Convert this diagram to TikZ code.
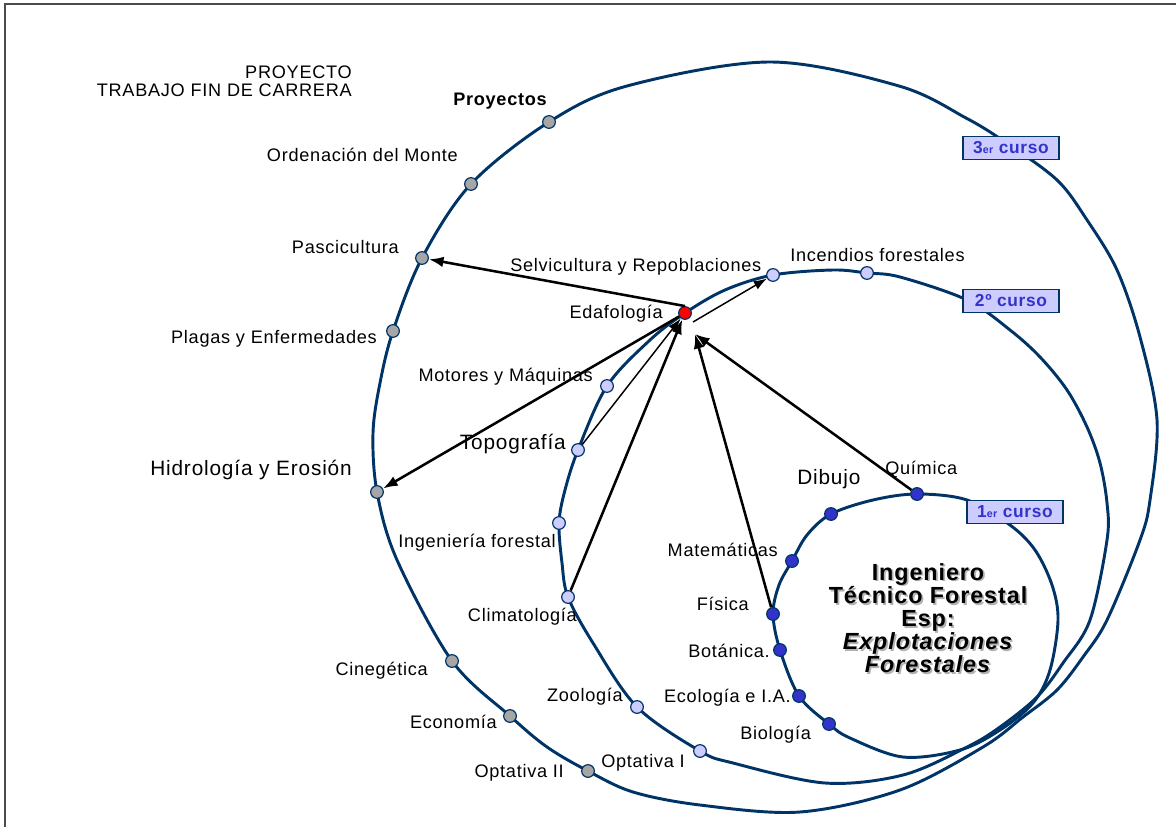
\documentclass[tikz,border=0pt]{standalone}
\usepackage{fontspec}
\setmainfont{Liberation Sans}[LetterSpace=4]
\usepackage{xcolor}
\usetikzlibrary{arrows.meta}

\definecolor{navy}{RGB}{0,51,102}
\definecolor{lav}{RGB}{204,204,255}
\definecolor{royal}{RGB}{51,51,204}
\definecolor{dotgray}{RGB}{166,166,166}

\tikzset{
  ring/.style={navy, line width=2.2pt},
  gdot/.style={circle, draw=navy, fill=dotgray, line width=0.9pt, minimum size=9.5pt, inner sep=0pt},
  ldot/.style={gdot, fill=lav},
  bdot/.style={gdot, fill=royal},
  rdot/.style={gdot, fill=red},
  lbl/.style={font=\fontsize{13.6}{15}\selectfont, inner sep=0pt},
  biglbl/.style={font=\fontsize{15.6}{19}\selectfont, inner sep=0pt},
  cursobox/.style={draw=navy, fill=lav, text=royal, line width=0.9pt,
    font=\bfseries\fontsize{13}{14}\selectfont, minimum width=72pt, minimum height=17pt, inner sep=1pt},
  titulo/.style={align=center, inner sep=0pt, font=\bfseries\fontsize{17.5}{17.3}\selectfont},
  arr/.style={-{Latex[length=11pt,width=8pt]}, line width=1.9pt},
  thinarr/.style={-{Latex[length=10pt,width=7pt]}, line width=1.1pt},
}

\begin{document}
\begin{tikzpicture}[x=0.75pt, y=-0.75pt]
\useasboundingbox (0,0) rectangle (1176,827);
% frame
\draw [gray!60!black, line width=1.5pt] (5,827) -- (5,4) -- (1176,4);

% 3er curso
\draw [ring] plot[smooth cycle, tension=0.55] coordinates {(770,62) (899,86) (966,118) (1005,142) (1057,180) (1087,220) (1117,270) (1140,337) (1157,420) (1150,500) (1140,540) (1107,620) (1083,657) (1057,690) (1023,717) (983,747) (900,790) (800,812) (700,805) (633,792) (588,771) (547,747) (510,716) (452,661) (397,560) (377,492) (373,433) (380,383) (393,331) (422,258) (471,184) (549,122) (627,86)};
% 2o curso
\draw [ring] plot[smooth cycle, tension=0.55] coordinates {(773,275) (833,270) (867,273) (900,277) (967,300) (1010,330) (1040,357) (1067,390) (1087,427) (1100,463) (1107,503) (1107,540) (1090,620) (1063,663) (1037,697) (1000,727) (967,747) (903,775) (825,783) (733,763) (700,751) (637,707) (593,643) (568,597) (562,563) (559,523) (565,490) (578,450) (607,386) (650,340) (685,313) (725,290)};
% 1er curso
\draw [ring] plot[smooth cycle, tension=0.55] coordinates {(917,494) (967,500) (1010,525) (1035,550) (1052,585) (1058,620) (1050,670) (1033,703) (1000,730) (960,750) (903,757) (850,738) (829,724) (799,696) (780,650) (773,614) (779,585) (792,561) (807,535) (831,514) (873,500)};

% course boxes
\node [cursobox] (c3) at (1011,148) {3{\fontsize{8}{9}\selectfont er} curso};
\node [cursobox] (c2) at (1011,301) {2º curso};
\node [cursobox] (c1) at (1015,512) {1{\fontsize{8}{9}\selectfont er} curso};

% dots
\node [gdot] (proy) at (549,122) {};
\node [gdot] (orde) at (471,184) {};
\node [gdot] (pasc) at (422,258) {};
\node [gdot] (plag) at (393,331) {};
\node [gdot] (hidr) at (377,492) {};
\node [gdot] (cine) at (452,661) {};
\node [gdot] (econ) at (510,716) {};
\node [gdot] (opt2) at (588,771) {};
\node [ldot] (selv) at (773,275) {};
\node [ldot] (ince) at (867,273) {};
\node [ldot] (moto) at (607,386) {};
\node [ldot] (topo) at (578,450) {};
\node [ldot] (inge) at (559,523) {};
\node [ldot] (clim) at (568,597) {};
\node [ldot] (zool) at (637,707) {};
\node [ldot] (opt1) at (700,751) {};
\node [rdot] (edaf) at (685,313) {};
\node [bdot] (quim) at (917,494) {};
\node [bdot] (dibu) at (831,514) {};
\node [bdot] (mate) at (792,561) {};
\node [bdot] (fisi) at (773,614) {};
\node [bdot] (bota) at (780,650) {};
\node [bdot] (ecol) at (799,696) {};
\node [bdot] (biol) at (829,724) {};
\coordinate (edafse) at (693,322);
\coordinate (edafin) at (695,334);

% labels
\node [lbl, anchor=base east] (tfc1) at (352,79) {PROYECTO};
\node [lbl, anchor=base east] (tfc2) at (352,97) {TRABAJO FIN DE CARRERA};
\node [lbl, font=\bfseries\fontsize{13.6}{15}\selectfont, anchor=base] (proy-t) at (500,106) {Proyectos};
\node [lbl, anchor=base east] (orde-t) at (458,162) {Ordenación del Monte};
\node [lbl, anchor=base east] (pasc-t) at (399,253) {Pascicultura};
\node [lbl, anchor=base west] (selv-t) at (510,271) {Selvicultura y Repoblaciones};
\node [lbl, anchor=base west] (ince-t) at (790,261) {Incendios forestales};
\node [lbl, anchor=base east] (edaf-t) at (663,318) {Edafología};
\node [lbl, anchor=base east] (plag-t) at (377,343) {Plagas y Enfermedades};
\node [lbl, anchor=base east] (moto-t) at (593,381) {Motores y Máquinas};
\node [biglbl, anchor=base east] (topo-t) at (566,449) {Topografía};
\node [biglbl, anchor=base east] (hidr-t) at (352,475) {Hidrología y Erosión};
\node [lbl, anchor=base east] (inge-t) at (556,547) {Ingeniería forestal};
\node [biglbl, anchor=base west] (dibu-t) at (797,484) {Dibujo};
\node [lbl, anchor=base west] (quim-t) at (885,474) {Química};
\node [lbl, anchor=base east] (mate-t) at (778,556) {Matemáticas};
\node [lbl, anchor=base east] (fisi-t) at (749,610) {Física};
\node [lbl, anchor=base east] (clim-t) at (577,621) {Climatología};
\node [lbl, anchor=base east] (bota-t) at (770,657) {Botánica.};
\node [lbl, anchor=base east] (cine-t) at (428,675) {Cinegética};
\node [lbl, anchor=base east] (zool-t) at (623,701) {Zoología};
\node [lbl, anchor=base east] (ecol-t) at (791,702) {Ecología e I.A.};
\node [lbl, anchor=base east] (econ-t) at (497,728) {Economía};
\node [lbl, anchor=base west] (biol-t) at (740,739) {Biología};
\node [lbl, anchor=base west] (opt1-t) at (601,767) {Optativa I};
\node [lbl, anchor=base east] (opt2-t) at (564,777) {Optativa II};

% title
\node [titulo, text=gray!60, xshift=1.3pt, yshift=-1.3pt] (titsh) at (928,618) {Ingeniero\\Técnico Forestal\\Esp:\\\textit{Explotaciones}\\\textit{Forestales}};
\node [titulo] (tit) at (928,618) {Ingeniero\\Técnico Forestal\\Esp:\\\textit{Explotaciones}\\\textit{Forestales}};

% arrows
\draw [arr] (edaf.north) -- (pasc);
\draw [arr] (edaf) -- (hidr);
\draw [thinarr] (edafse) -- (selv);
\draw [thinarr] (topo) -- (edaf);
\draw [arr] (clim) -- (edaf);
\draw [arr] (fisi) -- (edafin);
\draw [arr] (quim) -- (edafin);
\end{tikzpicture}
\end{document}
